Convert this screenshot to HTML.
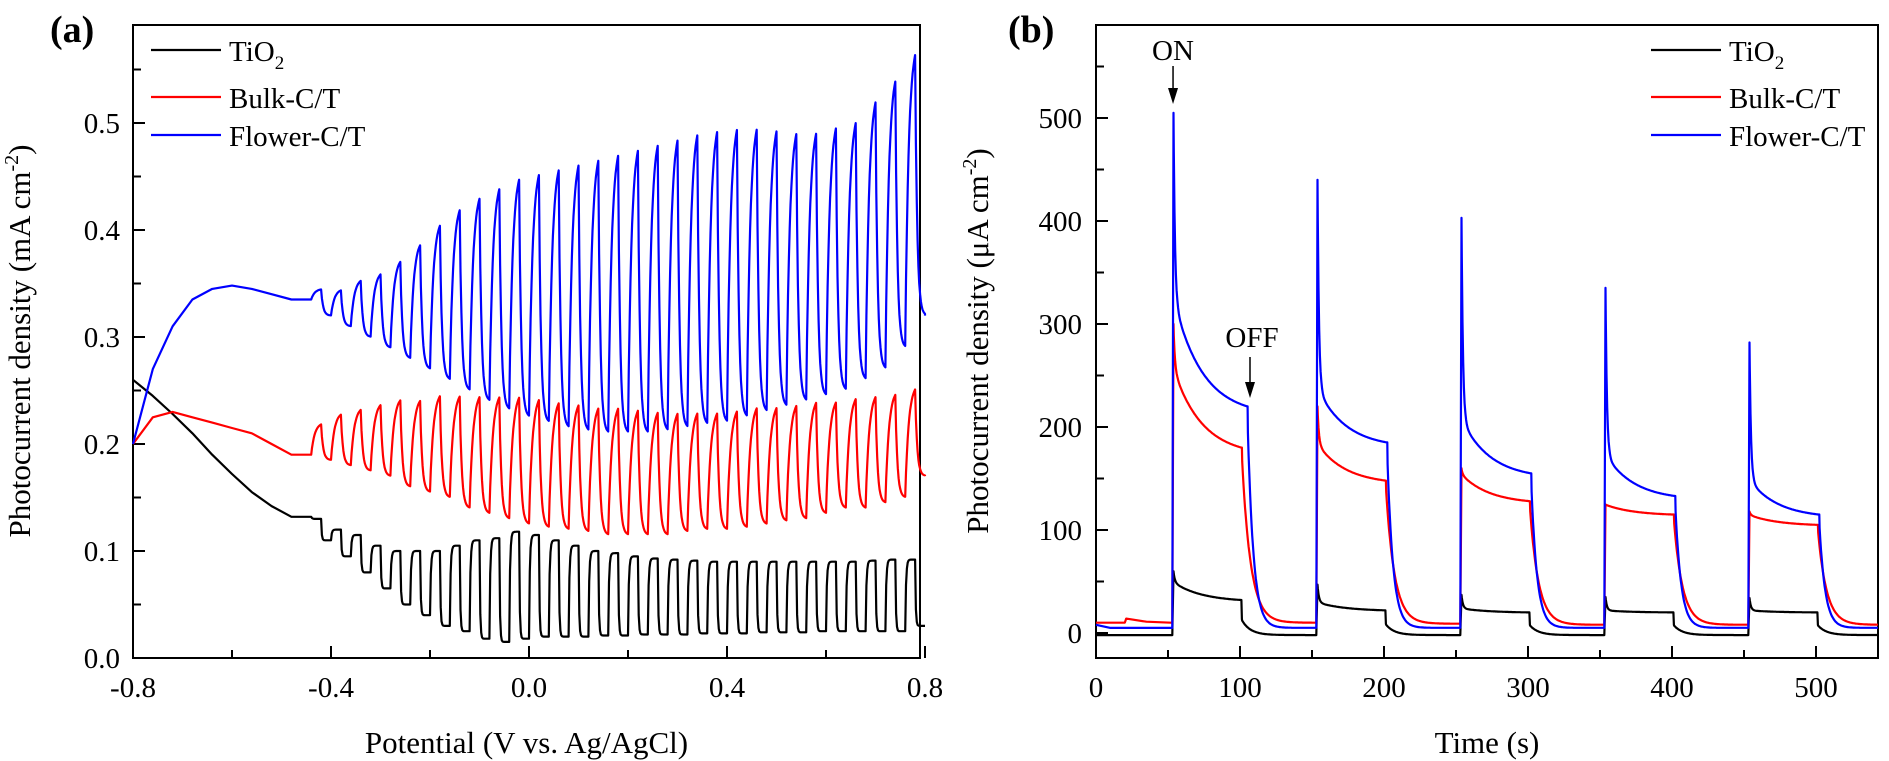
<!DOCTYPE html>
<html><head><meta charset="utf-8"><style>
html,body{margin:0;padding:0;background:#fff;}
svg{display:block;font-family:"Liberation Serif",serif;}
</style></head><body>
<svg id="chart" width="1889" height="761" viewBox="0 0 1889 761"></svg>
<script>
// ---- Panel (a) data: chopped LSV, chop starts every 0.04 V ----
const chopStarts = [-0.80,-0.76,-0.72,-0.68,-0.64,-0.60,-0.56,-0.52,-0.48,-0.44,-0.40,-0.36,-0.32,-0.28,-0.24,-0.20,-0.16,-0.12,-0.08,-0.04,0.00,0.04,0.08,0.12,0.16,0.20,0.24,0.28,0.32,0.36,0.40,0.44,0.48,0.52,0.56,0.60,0.64,0.68,0.72,0.76];
const tiDark  = [.26,.245,.228,.21,.19,.172,.155,.142,.132,.122,.11,.095,.08,.065,.05,.04,.03,.025,.018,.015,.018,.02,.02,.02,.021,.021,.022,.022,.022,.023,.023,.023,.024,.024,.024,.025,.025,.025,.025,.025];
const tiLight = [.26,.245,.228,.21,.19,.172,.155,.142,.132,.13,.12,.115,.105,.10,.10,.10,.105,.11,.112,.118,.115,.11,.105,.10,.098,.095,.093,.092,.091,.09,.09,.09,.09,.09,.09,.09,.09,.091,.092,.092];
const bulkDark  = [.20,.225,.23,.225,.22,.215,.21,.20,.19,.19,.185,.18,.175,.17,.16,.155,.15,.14,.135,.13,.125,.122,.12,.118,.115,.115,.115,.115,.118,.12,.12,.122,.125,.128,.13,.135,.14,.14,.145,.15];
const bulkLight = [.20,.225,.23,.225,.22,.215,.21,.20,.19,.22,.23,.235,.24,.245,.245,.25,.25,.25,.25,.25,.248,.245,.243,.24,.24,.238,.236,.235,.235,.235,.237,.24,.24,.242,.245,.245,.248,.25,.252,.257];
const flowDark  = [.20,.27,.31,.335,.345,.348,.345,.34,.335,.33,.32,.31,.30,.29,.28,.27,.26,.25,.24,.232,.225,.22,.215,.212,.21,.21,.21,.212,.215,.218,.22,.225,.23,.235,.24,.245,.25,.26,.27,.29];
const flowLight = [.20,.27,.31,.335,.345,.348,.345,.34,.335,.345,.345,.355,.362,.375,.392,.412,.428,.44,.45,.46,.465,.47,.475,.48,.485,.49,.495,.5,.505,.508,.51,.51,.508,.505,.505,.51,.515,.535,.555,.58];
const endValsA = [.03,.17,.32];
const xTicksA = ["-0.8","-0.4","0.0","0.4","0.8"];
const yTicksA = ["0.0","0.1","0.2","0.3","0.4","0.5"];
// ---- Panel (b) data: transient photocurrent ----
const onTimes = [53,153,253,353,453];
const flowOff = [105,202,302,402,502];
const bulkOff = [101,201,301,401,501];
const tiOff   = [101,201,301,401,501];
const flowPeak=[505,440,403,335,282], flowAfter=[330,240,210,175,150], flowEnd=[220,185,155,133,115], flowBase=[5,5,5,5,5];
const bulkPeak=[300,220,160,125,118], bulkAfter=[260,185,155,125,115], bulkEnd=[180,148,128,115,105], bulkBase=[10,9,8,8,8];
const tiPeak=[60,47,37,35,34], tiAfter=[50,30,24,22,22], tiEnd=[32,22,20,20,20], tiBase=[-2,-2,-2,-2,-2];
const startVals=[8,10,-2];
const xTicksB=["0","100","200","300","400","500"];
const yTicksB=["0","100","200","300","400","500"];

const NS="http://www.w3.org/2000/svg";
const svg=document.getElementById('chart');
function mk(tag,attrs,parent){const e=document.createElementNS(NS,tag);for(const k in attrs)e.setAttribute(k,attrs[k]);(parent||svg).appendChild(e);return e;}

const ax={l:133,r:920,t:25,b:658};
const xa=v=>ax.l+(v+0.8)*495;
const ya=v=>658-v*1070;
const bx={l:1096,r:1878,t:25,b:658};
const xb=v=>1096+v*1.44;
const yb=v=>633-v*1.03;

function frame(box,name){
  const r=mk('rect',{x:box.l,y:box.t,width:box.r-box.l,height:box.b-box.t,fill:'none',stroke:'#000','stroke-width':2});
  
  
}
function text(x,y,s,opts,name){
  const t=mk('text',Object.assign({x:x,y:y,'font-size':29,fill:'#000'},opts||{}));
  t.textContent=s;
  
  
  return t;
}
function path(d,color,name,w){
  const p=mk('path',{d:d,fill:'none',stroke:color,'stroke-width':w||2.2,'stroke-linejoin':'round'});
  
  
  return p;
}

// ---- Panel A ----
frame(ax,'plot-a-frame');
text(50,42,'(a)',{'font-weight':'bold','font-size':38},'panel-a-label');
let tg=mk('g',{});


for(let i=0;i<=8;i++){const v=-0.8+0.2*i;const x=xa(v);const len=i%2===0?12:8;mk('line',{x1:x,x2:x,y1:658,y2:658-len,stroke:'#000','stroke-width':2},tg);}
xTicksA.forEach(s=>{const v=parseFloat(s);text(xa(v),697,s,{'text-anchor':'middle'},'x-tick-a');});
for(let i=0;i<=11;i++){const v=0.05*i;const y=ya(v);const len=i%2===0?12:8;mk('line',{x1:ax.l,x2:ax.l+len,y1:y,y2:y,stroke:'#000','stroke-width':2});}
yTicksA.forEach(s=>{text(120,ya(parseFloat(s))+10,s,{'text-anchor':'end'},'y-tick-a');});
text((ax.l+ax.r)/2,753,'Potential (V vs. Ag/AgCl)',{'text-anchor':'middle','font-size':31},'x-axis-title-a');
const yt=text(0,0,'',{'text-anchor':'middle','font-size':31,transform:'translate(30,341) rotate(-90)'},'y-axis-title-a');
yt.innerHTML='Photocurrent density (mA cm<tspan dy="-12" font-size="20">-2</tspan><tspan dy="12">)</tspan>';

function chopPath(dark,light,endVal,tauOff,tauOn){
  let pts=[];const H=0.02,n=12;
  let cur=dark[0];
  for(let i=0;i<chopStarts.length;i++){
    const s=chopStarts[i];const L=light[i],D=dark[i];
    const Dn=i+1<dark.length?dark[i+1]:endVal;
    if(Math.abs(L-D)<1e-6){pts.push([s,D]);cur=D;continue;}
    for(let k=0;k<=n;k++){const t=k/n*H;const v=L-(L-cur)*Math.exp(-t/(tauOn*H));pts.push([s+t,v]);}
    const top=L-(L-cur)*Math.exp(-1/tauOn);
    for(let k=1;k<=n;k++){const t=k/n*H;const v=Dn+(top-Dn)*Math.exp(-t/(tauOff*H));pts.push([s+H+t,v]);}
    cur=Dn+(top-Dn)*Math.exp(-1/tauOff);
  }
  pts.push([0.8,endVal]);
  return 'M'+pts.map(p=>xa(p[0]).toFixed(1)+','+ya(p[1]).toFixed(1)).join('L');
}
path(chopPath(tiDark,tiLight,endValsA[0],0.06,0.08),'#000','tio2-line-a');
path(chopPath(bulkDark,bulkLight,endValsA[1],0.2,0.35),'#ff0000','bulk-ct-line-a');
path(chopPath(flowDark,flowLight,endValsA[2],0.2,0.35),'#0000ff','flower-ct-line-a');

function legend(x0){
  const g=mk('g',{});
  
  
  const cols=['#000','#ff0000','#0000ff'];const ys=[50,97,135];const names=['TiO2','Bulk-C/T','Flower-C/T'];
  names.forEach((n,i)=>{
    mk('line',{x1:x0,x2:x0+70,y1:ys[i],y2:ys[i],stroke:cols[i],'stroke-width':2.2},g);
    const t=mk('text',{x:x0+78,y:ys[i]+11,'font-size':29},g);
    
    
    if(i===0)t.innerHTML='TiO<tspan dy="8" font-size="19">2</tspan>';else t.textContent=n;
  });
}
legend(151);

// ---- Panel B ----
frame(bx,'plot-b-frame');
text(1008,42,'(b)',{'font-weight':'bold','font-size':38},'panel-b-label');
for(let i=0;i<=10;i++){const v=50*i;const x=xb(v);const len=i%2===0?12:8;mk('line',{x1:x,x2:x,y1:658,y2:658-len,stroke:'#000','stroke-width':2});}
xTicksB.forEach(s=>{text(xb(parseFloat(s)),697,s,{'text-anchor':'middle'},'x-tick-b');});
for(let i=0;i<=11;i++){const v=50*i;const y=yb(v);const len=i%2===0?12:8;mk('line',{x1:bx.l,x2:bx.l+len,y1:y,y2:y,stroke:'#000','stroke-width':2});}
yTicksB.forEach(s=>{text(1082,yb(parseFloat(s))+10,s,{'text-anchor':'end'},'y-tick-b');});
text((bx.l+bx.r)/2,753,'Time (s)',{'text-anchor':'middle','font-size':31},'x-axis-title-b');
const yt2=text(0,0,'',{'text-anchor':'middle','font-size':31,transform:'translate(988,341) rotate(-90)'},'y-axis-title-b');
yt2.innerHTML='Photocurrent density (μA cm<tspan dy="-12" font-size="20">-2</tspan><tspan dy="12">)</tspan>';

function transPath(start,offs,peak,after,end,base,tauOff,extra,drop){
  let pts=[[0,start]];
  if(extra){extra.forEach(p=>pts.push(p));}
  let cur=start;
  for(let c=0;c<onTimes.length;c++){
    const on=onTimes[c],off=offs[c];const dur=off-on;
    pts.push([on,c===0?pts[pts.length-1][1]:cur]);
    pts.push([on+0.8,peak[c]]);
    const k=20,E=Math.exp(-dur/k);
    for(let t=1;t<=dur;t+=0.5){
      const plat=end[c]+(after[c]-end[c])*(Math.exp(-t/k)-E)/(1-E);
      const v=plat+(peak[c]-after[c])*Math.exp(-(t-0.8)/1.0);
      pts.push([on+t,v]);
    }
    const next=c+1<onTimes.length?onTimes[c+1]:545;
    const st=drop?base[c]+(end[c]-base[c])*drop:end[c];
    pts.push([off+0.3,st]);
    for(let t=0.5;t<=next-off;t+=0.5){
      pts.push([off+t,base[c]+(st-base[c])*Math.exp(-t/tauOff)]);
    }
    cur=pts[pts.length-1][1];
  }
  return 'M'+pts.map(p=>xb(Math.min(p[0],543)).toFixed(1)+','+yb(p[1]).toFixed(1)).join('L');
}
path(transPath(startVals[2],tiOff,tiPeak,tiAfter,tiEnd,tiBase,6,[[52,-2]],0.45),'#000','tio2-line-b');
path(transPath(startVals[1],bulkOff,bulkPeak,bulkAfter,bulkEnd,bulkBase,6,[[20,10],[21,14],[35,11],[52,10]]),'#ff0000','bulk-ct-line-b');
path(transPath(startVals[0],flowOff,flowPeak,flowAfter,flowEnd,flowBase,4,[[10,5],[52,5]]),'#0000ff','flower-ct-line-b');
legend(1651);

// annotations
text(1173,60,'ON',{'text-anchor':'middle','font-size':29},'on-annotation');
mk('line',{x1:xb(53.5),x2:xb(53.5),y1:66,y2:92,stroke:'#000','stroke-width':1.5});
mk('polygon',{points:`${xb(53.5)-5},88 ${xb(53.5)+5},88 ${xb(53.5)},104`,fill:'#000'});
text(1252,347,'OFF',{'text-anchor':'middle','font-size':29},'off-annotation');
mk('line',{x1:1250,x2:1250,y1:357,y2:386,stroke:'#000','stroke-width':1.5});
mk('polygon',{points:'1245,382 1255,382 1250,398',fill:'#000'});
</script>
</body></html>
